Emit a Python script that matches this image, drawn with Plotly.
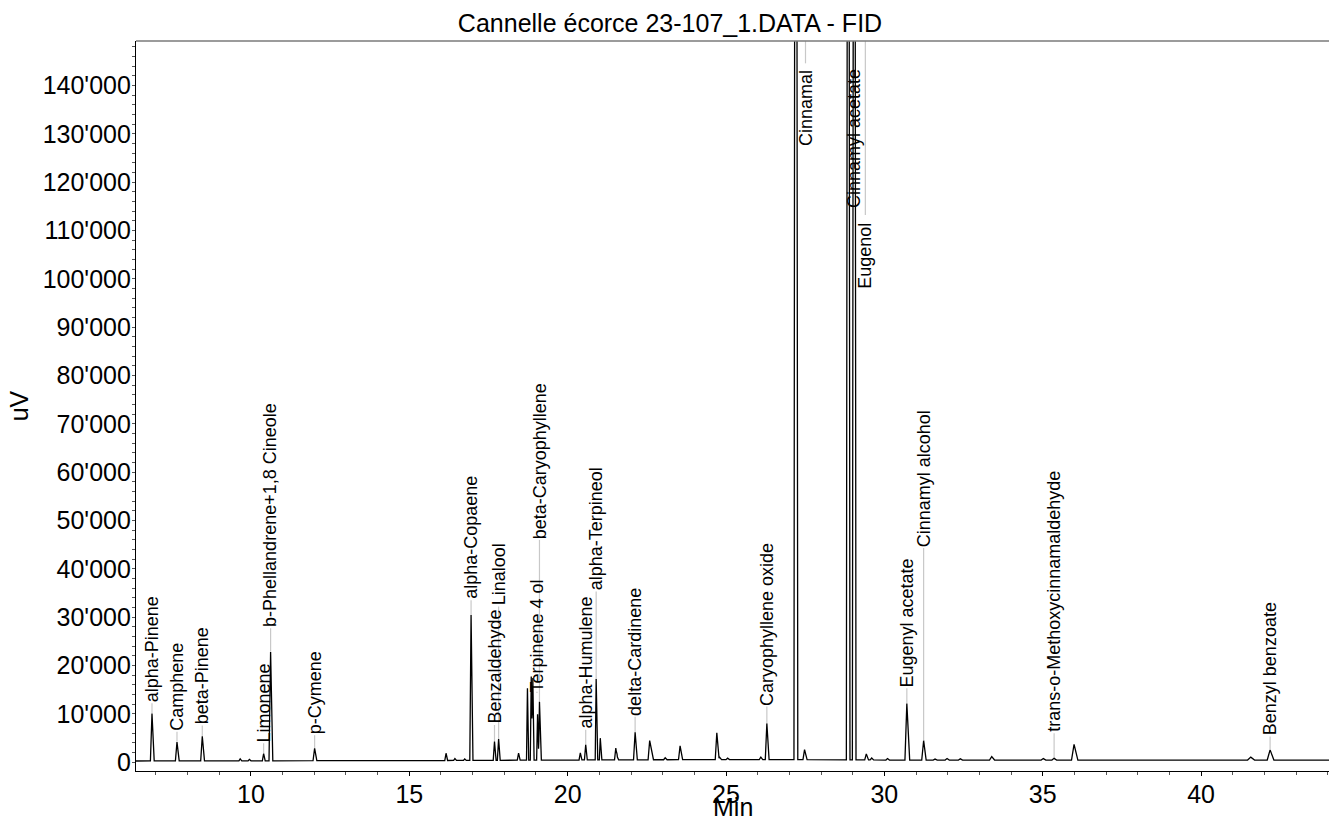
import numpy as np
import plotly.graph_objects as go

# ---------------- data ----------------
# baseline of the detector signal (min, uV)
baseline_rt = [6.37, 16.0, 22.0, 27.0, 30.0, 44.05]
baseline_uV = [250, 350, 500, 550, 450, 450]

# peaks: retention time (min), height above baseline (uV),
# leading and trailing base widths (min)
peak_rt = [6.875, 7.664, 8.463, 9.66, 9.95, 10.40, 10.62, 12.01,
           16.16, 16.44, 16.75, 16.95, 17.69, 17.82, 18.45, 18.73,
           18.85, 18.90, 19.05, 19.11, 20.40, 20.57, 20.90, 21.03,
           21.52, 21.56, 22.13, 22.59, 23.08, 23.55, 24.71, 24.80,
           25.05, 26.10, 26.29, 27.20, 27.48, 28.86, 29.05, 29.43,
           29.60, 30.10, 30.71, 31.24, 31.60, 31.98, 32.40, 33.39,
           35.02, 35.36, 35.99, 39.40, 41.57, 42.18]
peak_height = [9800, 3900, 5100, 400, 300, 1500, 22500, 2550,
               1500, 400, 300, 30100, 3900, 4400, 1450, 14900,
               17300, 17000, 9500, 12100, 1450, 3150, 16750, 4500,
               2450, 700, 5700, 3950, 400, 2850, 5550, 500,
               300, 500, 7450, 400000, 2050, 350000, 350000, 1250,
               400, 300, 11700, 4000, 200, 300, 250, 700,
               300, 350, 3250, 100, 600, 2100]
peak_lead = [0.05, 0.05, 0.05, 0.04, 0.04, 0.04, 0.05, 0.05,
             0.04, 0.04, 0.04, 0.04, 0.04, 0.04, 0.04, 0.03,
             0.03, 0.03, 0.03, 0.03, 0.04, 0.04, 0.03, 0.03,
             0.04, 0.03, 0.05, 0.05, 0.05, 0.05, 0.05, 0.05,
             0.05, 0.05, 0.05, 0.054, 0.05, 0.06, 0.06, 0.05,
             0.05, 0.05, 0.06, 0.06, 0.06, 0.06, 0.06, 0.07,
             0.07, 0.07, 0.08, 0.10, 0.10, 0.09]
peak_tail = [0.07, 0.07, 0.07, 0.05, 0.05, 0.05, 0.07, 0.07,
             0.05, 0.05, 0.05, 0.06, 0.05, 0.05, 0.05, 0.04,
             0.04, 0.04, 0.04, 0.06, 0.05, 0.05, 0.05, 0.05,
             0.05, 0.05, 0.07, 0.12, 0.06, 0.08, 0.07, 0.06,
             0.06, 0.06, 0.07, 0.067, 0.08, 0.055, 0.055, 0.07,
             0.06, 0.06, 0.09, 0.08, 0.07, 0.07, 0.07, 0.09,
             0.08, 0.08, 0.12, 0.12, 0.12, 0.12]

# peak labels: name, retention time, value where the leader starts,
# value where the label text starts (bottom of rotated text)
label_names = ["alpha-Pinene", "Camphene", "beta-Pinene", "Limonene",
               "b-Phellandrene+1,8 Cineole", "p-Cymene", "alpha-Copaene",
               "Benzaldehyde", "Linalool", "Terpinene 4 ol",
               "beta-Caryophyllene", "alpha-Humulene", "alpha-Terpineol",
               "delta-Cardinene", "Caryophyllene oxide", "Eugenyl acetate",
               "Cinnamyl alcohol", "trans-o-Methoxycinnamaldehyde",
               "Benzyl benzoate"]
label_rt = [6.875, 7.664, 8.463, 10.40, 10.62, 12.01, 16.95, 17.69, 17.82,
            19.03, 19.11, 20.57, 20.90, 22.13, 26.29, 30.71, 31.24, 35.36,
            42.18]
label_from = [10120, 4240, 5420, 1840, 22860, 2870, 30460, 4250, 4730,
              14600, 12520, 3560, 17150, 6110, 7900, 12180, 4450, 800, 2660]
label_at = [12200, 6300, 7600, 3900, 27700, 5600, 33500, 7700, 32200,
            14300, 46000, 6700, 35300, 9400, 11500, 15300, 44300, 6000, 5300]

# labels hanging from the top of the plot (off-scale peaks)
hang_names = ["Cinnamal", "Cinnamyl acetate", "Eugenol"]
hang_rt = [27.51, 29.02, 29.40]
hang_line_to = [144600, 143200, 113200]
hang_text_top = [143300, 143600, 111900]

# axes
x_range = [6.37, 44.04]
y_range = [-1820, 149220]
title_text = "Cannelle écorce 23-107_1.DATA - FID"
x_title = "Min"
y_title = "uV"

# ---------------- build chromatogram polyline ----------------
rt = np.array(peak_rt)
h = np.array(peak_height, dtype=float)
wl = np.array(peak_lead)
wr = np.array(peak_tail)
times = np.unique(np.concatenate([baseline_rt, rt - wl, rt, rt + wr]))
signal = np.interp(times, baseline_rt, baseline_uV)
for r, hh, a, b in zip(rt, h, wl, wr):
    signal = signal + np.interp(times, [r - a, r, r + b], [0, hh, 0], left=0, right=0)

FONT = "Liberation Sans, Arial, sans-serif"

fig = go.Figure()
fig.add_trace(go.Scatter(x=times, y=signal, mode="lines",
                         line=dict(color="black", width=1.3),
                         hoverinfo="skip", showlegend=False))

shapes = []
annotations = []
for name, x, y0, y1 in zip(label_names, label_rt, label_from, label_at):
    shapes.append(dict(type="line", xref="x", yref="y", x0=x, x1=x, y0=y0, y1=y1,
                       line=dict(color="#c8c8c8", width=1.2), layer="below"))
    annotations.append(dict(x=x, y=y1, xref="x", yref="y", text=name,
                            textangle=-90, showarrow=False, xanchor="center",
                            yanchor="bottom", borderpad=0,
                            font=dict(family=FONT, size=18, color="black")))
for name, x, yl, yt in zip(hang_names, hang_rt, hang_line_to, hang_text_top):
    shapes.append(dict(type="line", xref="x", yref="y", x0=x, x1=x, y0=y_range[1], y1=yl,
                       line=dict(color="#c8c8c8", width=1.2), layer="below"))
    annotations.append(dict(x=x, y=yt, xref="x", yref="y", text=name,
                            textangle=-90, showarrow=False, xanchor="center",
                            yanchor="top", borderpad=0,
                            font=dict(family=FONT, size=18, color="black")))
# x-axis title, placed just under the tick labels
annotations.append(dict(x=0.5, y=-36 / 730, xref="paper", yref="paper", text=x_title,
                        showarrow=False, xanchor="center", yanchor="middle",
                        borderpad=0, font=dict(family=FONT, size=25, color="black")))
# top border of the plot area
shapes.append(dict(type="line", xref="paper", yref="paper", x0=0, x1=1, y0=1, y1=1,
                   line=dict(color="#7a7a7a", width=1.5)))

fig.update_layout(
    width=1329, height=828,
    margin=dict(l=136, r=0, t=41, b=57, autoexpand=False),
    paper_bgcolor="white", plot_bgcolor="white",
    separators=".'",
    font=dict(family=FONT, size=25, color="black"),
    title=dict(text=title_text, x=670 / 1329, xref="container", xanchor="center",
               y=1 - 23 / 828, yref="container", yanchor="middle",
               font=dict(family=FONT, size=25, color="black")),
    shapes=shapes,
    annotations=annotations,
    xaxis=dict(range=x_range, tick0=10, dtick=5, ticks="outside", ticklen=4,
               tickcolor="black", showline=True, linecolor="black", linewidth=1.3,
               showgrid=False, zeroline=False, automargin=False,
               ticklabelstandoff=-3,
               minor=dict(dtick=1, ticks="outside", ticklen=3, tickcolor="#555"),
               tickfont=dict(family=FONT, size=25)),
    yaxis=dict(range=y_range, tick0=0, dtick=10000, tickformat=",d",
               ticks="outside", ticklen=3, tickcolor="#555",
               showline=True, linecolor="black", linewidth=1.3,
               showgrid=False, zeroline=False, automargin=False,
               ticklabelstandoff=-4,
               minor=dict(dtick=2000, ticks="outside", ticklen=3, tickcolor="#555"),
               tickfont=dict(family=FONT, size=25),
               title=dict(text=y_title, standoff=6, font=dict(family=FONT, size=25))),
)

fig.write_html("out.html",
               config={"displayModeBar": False},
               post_script="document.body.style.margin='0';"
                           "document.body.style.overflow='hidden';")
